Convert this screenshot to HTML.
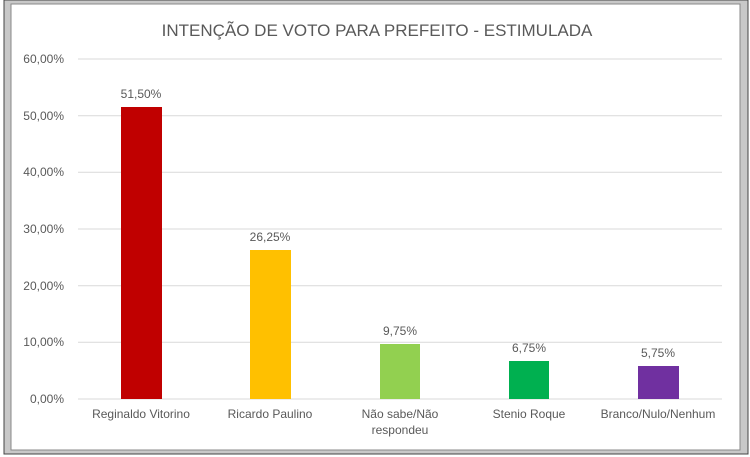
<!DOCTYPE html><html><head><meta charset="utf-8"><style>body{margin:0;background:#fff}svg{display:block}text{font-family:"Liberation Sans",sans-serif;fill:#595959}</style></head><body>
<svg width="750" height="457" viewBox="0 0 750 457">
<rect x="0" y="0" width="750" height="457" fill="#fff"/>
<rect x="4" y="0" width="744" height="454" fill="#c8c8c8" stroke="#444" stroke-width="1"/>
<rect x="11" y="4" width="729" height="446" fill="#fff" stroke="#888" stroke-width="1"/>
<text x="377" y="36" font-size="17" text-anchor="middle">INTENÇÃO DE VOTO PARA PREFEITO - ESTIMULADA</text>
<g stroke="#d9d9d9" stroke-width="1">
<line x1="78" x2="722" y1="59" y2="59"/><line x1="78" x2="722" y1="115.7" y2="115.7"/><line x1="78" x2="722" y1="172.3" y2="172.3"/><line x1="78" x2="722" y1="229" y2="229"/><line x1="78" x2="722" y1="285.7" y2="285.7"/><line x1="78" x2="722" y1="342.3" y2="342.3"/><line x1="78" x2="722" y1="399" y2="399"/></g>
<g font-size="12" text-anchor="end">
<text x="64" y="63">60,00%</text><text x="64" y="120">50,00%</text><text x="64" y="176">40,00%</text><text x="64" y="233">30,00%</text><text x="64" y="290">20,00%</text><text x="64" y="346">10,00%</text><text x="64" y="403">0,00%</text></g>
<rect x="121" y="107" width="41" height="292" fill="#c00000"/>
<rect x="250" y="250" width="41" height="149" fill="#ffc000"/>
<rect x="380" y="344" width="40" height="55" fill="#92d050"/>
<rect x="509" y="361" width="40" height="38" fill="#00b050"/>
<rect x="638" y="366" width="41" height="33" fill="#7030a0"/>
<g font-size="12" text-anchor="middle">
<text x="141" y="98">51,50%</text><text x="270" y="241">26,25%</text><text x="400" y="335">9,75%</text><text x="529" y="352">6,75%</text><text x="658" y="357">5,75%</text>
<text x="141" y="418">Reginaldo Vitorino</text><text x="270" y="418">Ricardo Paulino</text><text x="400" y="418">Não sabe/Não</text><text x="400" y="434">respondeu</text><text x="529" y="418">Stenio Roque</text><text x="658" y="418">Branco/Nulo/Nenhum</text></g>
</svg></body></html>
